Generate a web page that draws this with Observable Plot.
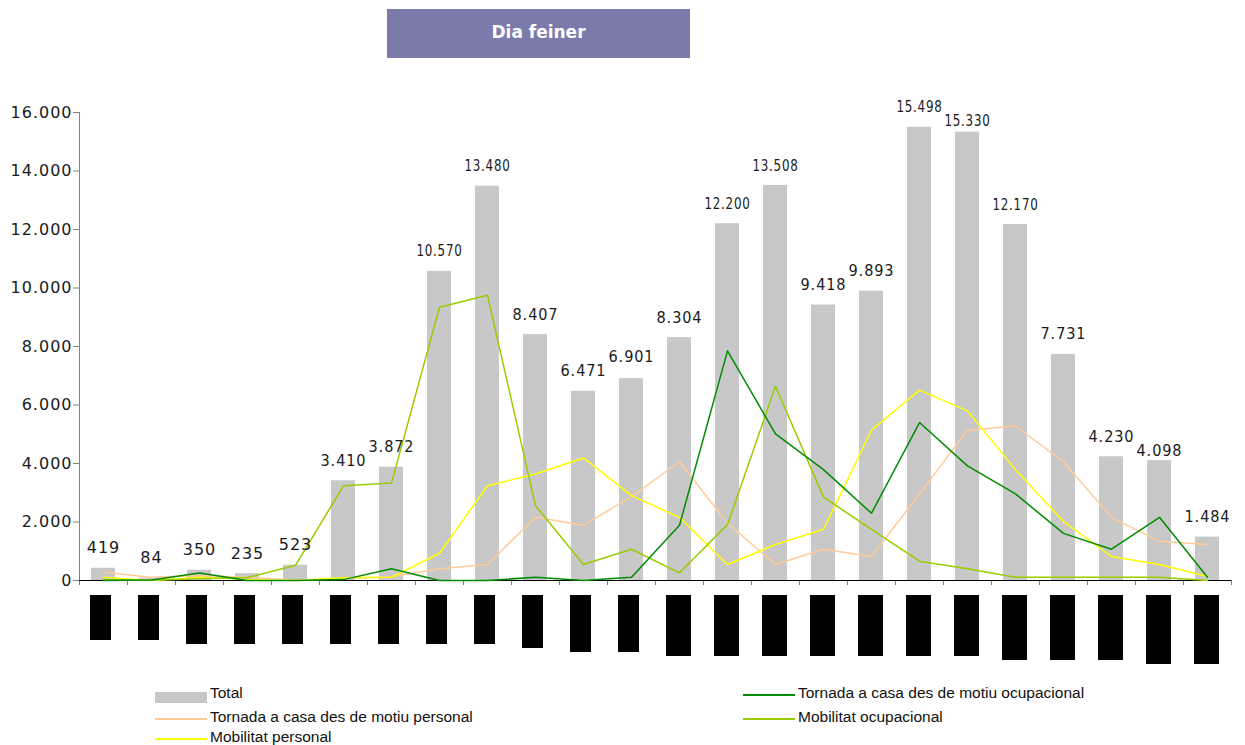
<!DOCTYPE html>
<html>
<head>
<meta charset="utf-8">
<script src="https://cdn.jsdelivr.net/npm/d3@7"></script>
<script src="https://cdn.jsdelivr.net/npm/@observablehq/plot@0.6"></script>
<style>
  body { margin: 0; background: #fff; }
  #wrap { position: relative; width: 1245px; height: 745px; overflow: hidden; font-family: "Liberation Sans", Arial, sans-serif; }
  #title { position: absolute; left: 387px; top: 9px; width: 303px; height: 49px; background: #7b7bab; color: #fff; font-family: "DejaVu Sans", sans-serif; font-weight: bold; font-size: 17px; line-height: 46px; text-align: center; }
  #main { position: absolute; left: 0; top: 0; }
  #boxes { position: absolute; left: 0; top: 595px; }
  .lg { position: absolute; font-size: 15.5px; line-height: 18px; color: #111; white-space: nowrap; }
  .sw { position: absolute; }
</style>
</head>
<body>
<div id="wrap">
  <div id="title">Dia feiner</div>
  <div id="main"></div>
  <div id="boxes"></div>
  <div id="legend"></div>
</div>
<script>
// ---- Data ----
const hores = ["0h","1h","2h","3h","4h","5h","6h","7h","8h","9h","10h","11h","12h","13h","14h","15h","16h","17h","18h","19h","20h","21h","22h","23h"];
const total = [419, 84, 350, 235, 523, 3410, 3872, 10570, 13480, 8407, 6471, 6901, 8304, 12200, 13508, 9418, 9893, 15498, 15330, 12170, 7731, 4230, 4098, 1484];
const tornadaOcupacional = [0, 20, 260, 0, 0, 30, 400, 0, 0, 110, 0, 110, 1890, 7850, 5010, 3790, 2300, 5400, 3920, 2960, 1610, 1070, 2160, 113];
const tornadaPersonal = [285, 110, 170, 110, 20, 60, 130, 400, 546, 2160, 1890, 2870, 4060, 1960, 546, 1070, 820, 2960, 5140, 5280, 4060, 2160, 1340, 1230];
const mobilitatOcupacional = [30, 10, 60, 100, 520, 3240, 3330, 9340, 9750, 2560, 546, 1070, 262, 1910, 6640, 2850, 1750, 660, 400, 113, 110, 110, 110, 0];
const mobilitatPersonal = [110, 0, 110, 30, 0, 90, 110, 933, 3240, 3640, 4190, 2900, 2160, 546, 1230, 1750, 5140, 6510, 5800, 3790, 2020, 820, 546, 136];
const yTicks = [0, 2000, 4000, 6000, 8000, 10000, 12000, 14000, 16000];
// lengths of the (unreadable, black) category labels under the axis
const etiquetaLlargada = [45, 45, 49, 49, 49, 49, 49, 49, 49, 53, 57, 57, 61, 61, 61, 61, 61, 61, 61, 65, 65, 65, 69, 69];
const nomsSeries = ["Tornada a casa des de motiu ocupacional", "Tornada a casa des de motiu personal", "Mobilitat ocupacional", "Mobilitat personal"];
const colorsSeries = ["#008c00", "#ffcc99", "#99cc00", "#ffff00"];

// ---- Build ----
const fmt = d3.formatLocale({decimal: ",", thousands: ".", grouping: [3]}).format(",");
const dades = hores.map((h, i) => ({hora: h, total: total[i]}));
const valorsSeries = [tornadaOcupacional, tornadaPersonal, mobilitatOcupacional, mobilitatPersonal];
const linies = nomsSeries.flatMap((nom, s) => hores.map((h, i) => ({hora: h, valor: valorsSeries[s][i], serie: nom})));
const ordre = ["Tornada a casa des de motiu personal", "Mobilitat personal", "Mobilitat ocupacional", "Tornada a casa des de motiu ocupacional"];
const liniesOrd = ordre.flatMap(n => linies.filter(d => d.serie === n));

const main = Plot.plot({
  width: 1245, height: 590,
  marginLeft: 79, marginRight: 14, marginTop: 112, marginBottom: 10,
  style: {fontFamily: "DejaVu Sans", fontSize: "16px", color: "#1a1a1a", background: "transparent", letterSpacing: "1px"},
  x: {domain: hores, padding: 0, axis: null},
  y: {domain: [0, 16000], axis: null},
  color: {domain: nomsSeries, range: colorsSeries},
  marks: [
    Plot.barY(dades, {x: "hora", y: "total", fill: "#c8c8c8", insetLeft: 12, insetRight: 12}),
    Plot.frame({anchor: "left", stroke: "#808080"}),
    Plot.axisY({ticks: yTicks, tickSize: 6, tickPadding: 1, tickFormat: d => fmt(d), stroke: "#808080", fill: "#1a1a1a", label: null}),
    Plot.axisX({tickSize: 5, tickFormat: () => "", dx: -24, stroke: "#808080", label: null}),
    Plot.axisX({ticks: [hores[hores.length - 1]], tickSize: 5, tickFormat: () => "", dx: 24, stroke: "#808080", label: null}),
    Plot.ruleY([0], {stroke: "#000"}),
    Plot.line(liniesOrd, {x: "hora", y: "valor", z: "serie", stroke: "serie", strokeWidth: 1.5}),
    Plot.text(dades, {x: "hora", y: "total", text: d => fmt(d.total), dy: -20, fill: "#1a1a1a", className: "etiq-valor"})
  ]
});
document.getElementById("main").appendChild(main);

// shrink value labels wider than their band, and nudge a label down when its
// natural extent would collide with its left neighbour (as the reference does for 15.330)
const etiquetes = [];
d3.select(main).selectAll(".etiq-valor text").each(function() {
  const w = this.getComputedTextLength();
  const b = this.getBoundingClientRect();
  const cx = (b.left + b.right) / 2;
  etiquetes.push({el: this, x0: cx - w / 2, x1: cx + w / 2, cy: (b.top + b.bottom) / 2});
  if (w > 46) {
    this.setAttribute("textLength", 46);
    this.setAttribute("lengthAdjust", "spacingAndGlyphs");
  }
});
let prev = null;
for (const cur of etiquetes) {
  if (prev && cur.x0 < prev.x1 && prev.x0 < cur.x1 && Math.abs(cur.cy - prev.cy) < 14) {
    const shift = cur.cy >= prev.cy ? prev.cy + 14 - cur.cy : prev.cy - 14 - cur.cy;
    cur.el.setAttribute("transform", `${cur.el.getAttribute("transform") || ""} translate(0,${shift})`);
    cur.cy += shift;
  }
  prev = cur;
}

const etiq = hores.map((h, i) => ({hora: h, llarg: etiquetaLlargada[i]}));
const boxes = Plot.plot({
  width: 1245, height: 72,
  marginLeft: 79, marginRight: 14, marginTop: 0, marginBottom: 0,
  x: {domain: hores, padding: 0, axis: null},
  y: {domain: [0, 72], range: [0, 72], axis: null},
  marks: [
    Plot.barY(etiq.slice(0, 12), {x: "hora", y: "llarg", fill: "#000", insetLeft: 11, insetRight: 16}),
    Plot.barY(etiq.slice(12), {x: "hora", y: "llarg", fill: "#000", insetLeft: 11, insetRight: 12})
  ]
});
document.getElementById("boxes").appendChild(boxes);

// ---- Legend ----
const legend = document.getElementById("legend");
const items = [
  {nom: "Total", tipus: "rect", color: "#c8c8c8", x: 155, y: 693},
  {nom: nomsSeries[0], tipus: "line", color: colorsSeries[0], x: 743, y: 693},
  {nom: nomsSeries[1], tipus: "line", color: colorsSeries[1], x: 155, y: 717},
  {nom: nomsSeries[2], tipus: "line", color: colorsSeries[2], x: 743, y: 717},
  {nom: nomsSeries[3], tipus: "line", color: colorsSeries[3], x: 155, y: 737}
];
for (const it of items) {
  const sw = document.createElement("div");
  sw.className = "sw";
  if (it.tipus === "rect") {
    sw.style.cssText = `left:${it.x}px;top:${it.y - 1}px;width:52px;height:11px;background:${it.color}`;
  } else {
    sw.style.cssText = `left:${it.x}px;top:${it.y + 1}px;width:52px;height:1.5px;background:${it.color}`;
  }
  legend.appendChild(sw);
  const t = document.createElement("div");
  t.className = "lg";
  t.style.left = (it.x + 55) + "px";
  t.style.top = (it.y - 9) + "px";
  t.textContent = it.nom;
  legend.appendChild(t);
}
</script>
</body>
</html>
